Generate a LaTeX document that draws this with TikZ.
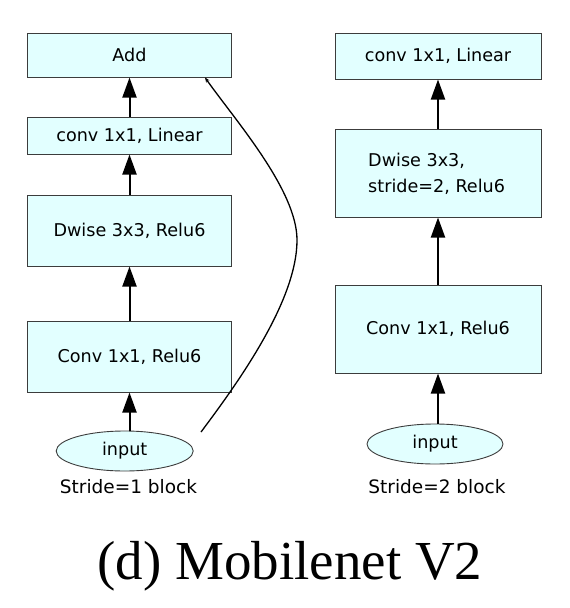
\documentclass[tikz,border=0pt]{standalone}
\usepackage{fontspec}
\setmainfont{Liberation Serif}
\newfontfamily\dv{DejaVu Sans}
\usetikzlibrary{shapes.geometric,arrows.meta}
\definecolor{boxfill}{RGB}{226,255,255}
\definecolor{boxline}{RGB}{60,60,60}
\tikzset{
  box/.style={draw=boxline,fill=boxfill,line width=1pt,inner sep=0pt,font=\dv\fontsize{17.6}{26}\selectfont},
  inp/.style={ellipse,draw=boxline,fill=boxfill,line width=0.9pt,inner sep=0pt,minimum width=137pt,minimum height=40pt,font=\dv\fontsize{17.6}{20}\selectfont},
  lbl/.style={inner sep=0pt,font=\dv\fontsize{18.5}{20}\selectfont},
  arr/.style={line width=2pt,-{Triangle[length=20pt,width=14pt]}},
  skip/.style={line width=1.3pt,-{Stealth[length=5pt,width=4pt]}}
}
\begin{document}
\begin{tikzpicture}[x=1pt,y=-1pt]
\useasboundingbox (0,0) rectangle (570,608);
% left column
\node[box,minimum width=204pt,minimum height=43.5pt] (add) at (129.5,55.3) {Add};
\node[box,minimum width=204pt,minimum height=37pt] (lin1) at (129.5,135.5) {conv 1x1, Linear};
\node[box,minimum width=204pt,minimum height=71pt] (dw1) at (129.5,230.5) {Dwise 3x3, Relu6};
\node[box,minimum width=204pt,minimum height=71pt] (cv1) at (129.5,356.5) {Conv 1x1, Relu6};
\node[inp] (in1) at (124.7,451) {input};
\node[lbl] (t1) at (128.5,487) {Stride=1 block};
\draw[arr] (lin1.north) -- (add.south);
\draw[arr] (dw1.north) -- (lin1.south);
\draw[arr] (cv1.north) -- (dw1.south);
\draw[arr] (in1.north -| cv1.south) -- (cv1.south);
\coordinate (s0) at (201,432);
\coordinate (sm) at (297,240);
\coordinate (s1) at (205,77.5);
\draw[skip] (s0) .. controls (240,380) and (297,300) .. (sm)
  .. controls (297,190) and (235,120) .. (s1);
% right column
\node[box,minimum width=206pt,minimum height=46pt] (lin2) at (438,56) {conv 1x1, Linear};
\node[box,minimum width=206pt,minimum height=88pt] (dw2) at (438,173) {};
\node[inner sep=0pt,anchor=west,align=left,font=\dv\fontsize{17.6}{26}\selectfont] (dw2t) at (368,174) {Dwise 3x3,\\stride=2, Relu6};
\node[box,minimum width=206pt,minimum height=88pt] (cv2) at (438,329) {Conv 1x1, Relu6};
\node[inp,minimum width=136pt] (in2) at (435,444) {input};
\node[lbl] (t2) at (437,487) {Stride=2 block};
\draw[arr] (dw2.north) -- (lin2.south);
\draw[arr] (cv2.north) -- (dw2.south);
\draw[arr] (in2.north -| cv2.south) -- (cv2.south);
% title
\node[inner sep=0pt,font=\fontsize{55}{60}\selectfont] (title) at (290,566) {(d) Mobilenet V2};
\end{tikzpicture}
\end{document}
